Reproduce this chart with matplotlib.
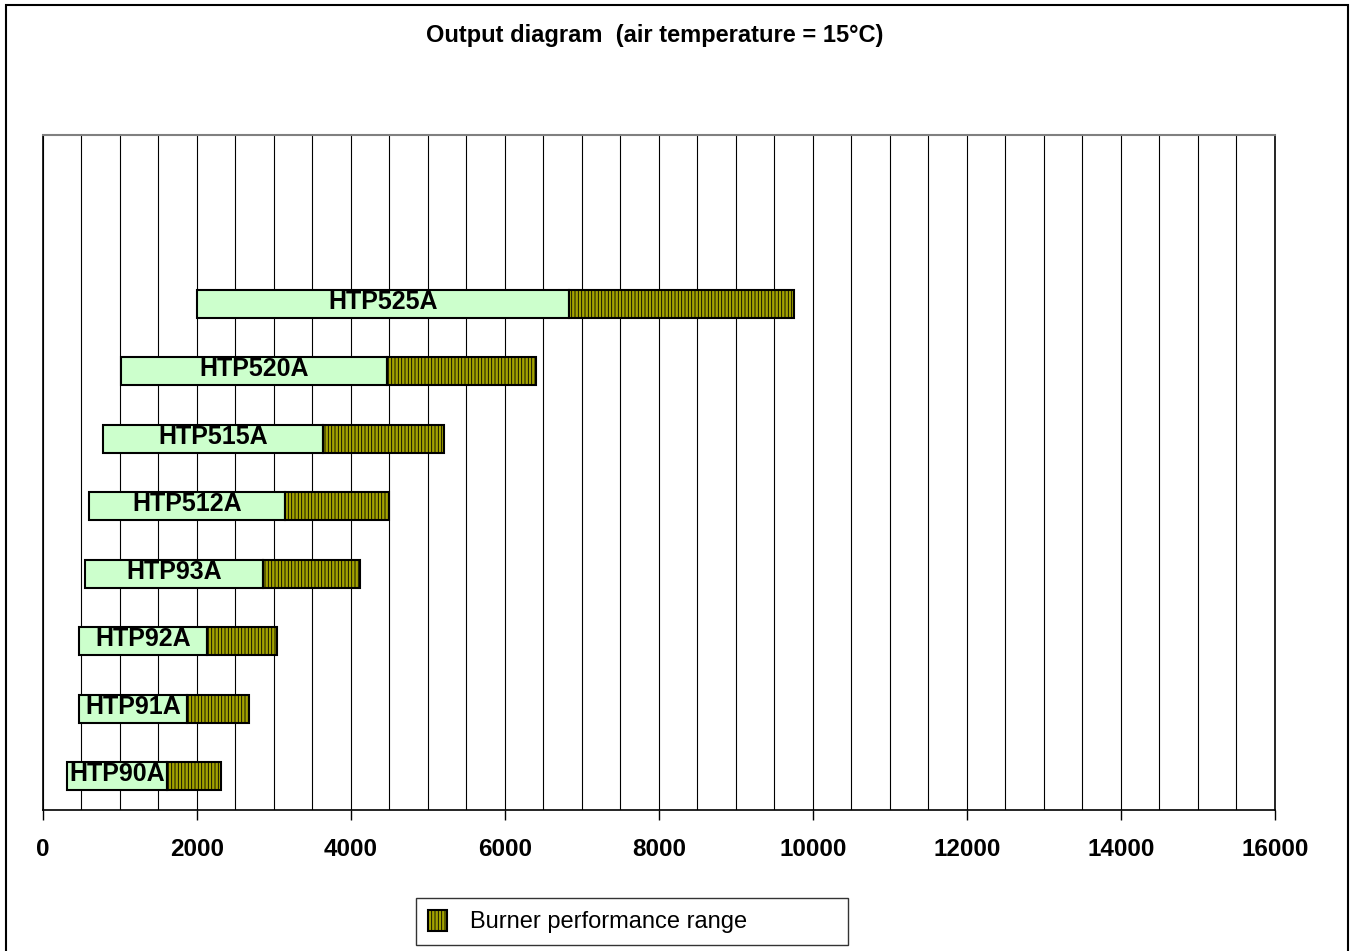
import matplotlib.pyplot as plt
import matplotlib.patches as mpatches
from matplotlib.ticker import MultipleLocator
import numpy as np

modelos = ['HTP90A', 'HTP91A', 'HTP92A', 'HTP93A', 'HTP512A', 'HTP515A', 'HTP520A', 'HTP525A']
inicio = np.array([310, 470, 470, 540, 600, 780, 1010, 2000])
medio = np.array([1610, 1870, 2130, 2860, 3140, 3640, 4470, 6830])
fin = np.array([2310, 2680, 3040, 4120, 4500, 5210, 6400, 9750])


def main():
    plt.rcParams['font.family'] = ['Liberation Sans', 'DejaVu Sans']
    plt.rcParams['hatch.color'] = '#3c3c00'
    plt.rcParams['hatch.linewidth'] = 0.6

    fig = plt.figure(figsize=(13.55, 9.51), dpi=100)
    ax = fig.add_axes([0.0317, 0.1483, 0.9092, 0.7098])

    y = np.arange(len(modelos))
    ax.barh(y, medio - inicio, left=inicio, height=0.41, color='#ccffcc',
            edgecolor='black', linewidth=1.5, zorder=3)
    ax.barh(y, fin - medio, left=medio, height=0.41, color='#a3a300',
            edgecolor='black', linewidth=1.5, hatch='|||||', zorder=3,
            label='Burner performance range')

    for i, nombre in enumerate(modelos):
        ax.text((inicio[i] + medio[i]) / 2, i + 0.03, nombre, ha='center', va='center',
                fontsize=18, fontweight='bold', zorder=4)

    ax.set_xlim(0, 16000)
    ax.set_ylim(-0.5, 9.5)
    ax.xaxis.set_major_locator(MultipleLocator(2000))
    ax.xaxis.set_minor_locator(MultipleLocator(500))
    ax.grid(axis='x', which='both', color='black', linewidth=0.8, zorder=0)
    ax.set_yticks([])
    ax.tick_params(axis='x', which='major', length=7, width=1, direction='out',
                   labelsize=17.5, pad=13)
    ax.tick_params(axis='x', which='minor', length=0)
    for lab in ax.get_xticklabels():
        lab.set_fontweight('bold')

    ax.spines['top'].set_color('#808080')
    ax.spines['top'].set_linewidth(1.5)
    for s in ['left', 'right', 'bottom']:
        ax.spines[s].set_color('black')
        ax.spines[s].set_linewidth(1.2)

    fig.text(0.483, 0.963, 'Output diagram  (air temperature = 15°C)',
             ha='center', va='center', fontsize=17, fontweight='bold')

    leg = ax.legend(loc='upper left', bbox_to_anchor=(0.307, -0.1, 0.319, 0.1557),
                    bbox_transform=fig.transFigure, mode='expand', fontsize=17,
                    frameon=True, fancybox=False, borderpad=0.5, borderaxespad=0,
                    handlelength=0.8, handleheight=1.0, handletextpad=1.0)
    leg.get_frame().set_edgecolor('black')
    leg.get_frame().set_linewidth(1.0)

    fig.patches.append(mpatches.Rectangle((0.0044, -0.01), 0.9904, 1.0047,
                                          transform=fig.transFigure, fill=False,
                                          edgecolor='black', linewidth=1.5))

    fig.savefig('out.png', dpi=100)


if __name__ == "__main__":
    main()
